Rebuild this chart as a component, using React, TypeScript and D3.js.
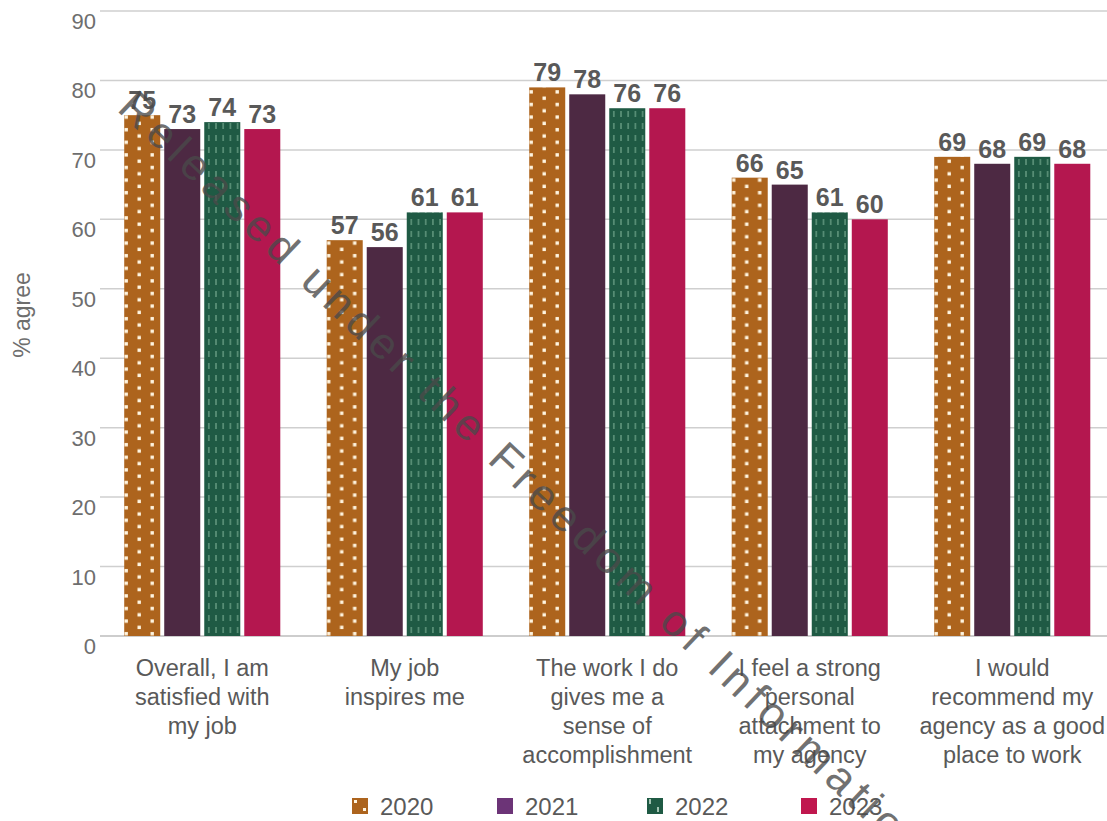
import React from "react";
import * as d3 from "d3";

const categories = [
  ["Overall, I am", "satisfied with", "my job"],
  ["My job", "inspires me"],
  ["The work I do", "gives me a", "sense of", "accomplishment"],
  ["I feel a strong", "personal", "attachment to", "my agency"],
  ["I would", "recommend my", "agency as a good", "place to work"],
];
const years = ["2020", "2021", "2022", "2023"];
const values2020 = [75, 57, 79, 66, 69];
const values2021 = [73, 56, 78, 65, 68];
const values2022 = [74, 61, 76, 61, 69];
const values2023 = [73, 61, 76, 60, 68];
const yTicks = [0, 10, 20, 30, 40, 50, 60, 70, 80, 90];

const series = [values2020, values2021, values2022, values2023];
const fills = ["url(#dots)", "#4d2943", "url(#dashes)", "#b4174f"];
const legendFills = ["url(#dotsL)", "#6c3477", "url(#dashesL)", "#c0174e"];

const W = 1107;
const H = 821;

export default function App() {
  const x0 = d3.scaleBand<number>().domain(d3.range(categories.length)).range([101, 1113.5]).padding(0);
  const x1 = d3
    .scaleBand<string>()
    .domain(years)
    .range([0, x0.bandwidth()])
    .paddingInner(0.1)
    .paddingOuter(0.58);
  const y = d3.scaleLinear().domain([0, 90]).range([636, 11]);
  const font = "'Liberation Sans', Arial, sans-serif";
  const legendX = [352, 497, 647, 801];

  return (
    <svg
      width={W}
      height={H}
      style={{ position: "absolute", left: 0, top: 0, background: "#fff" }}
      fontFamily={font}
    >
      <defs>
        <pattern id="dots" patternUnits="userSpaceOnUse" width="26" height="12.6" x="123" y="0">
          <rect width="26" height="12.6" fill="#ad641d" />
          <rect x="4.5" y="2" width="3.4" height="3.4" fill="#fff5e0" />
          <rect x="17.5" y="8.3" width="3.4" height="3.4" fill="#fff5e0" />
        </pattern>
        <pattern id="dotsL" patternUnits="userSpaceOnUse" width="16" height="16" x="352" y="798">
          <rect width="16" height="16" fill="#ad641d" />
          <rect x="2" y="2" width="3" height="3" fill="#fff5e0" />
          <rect x="11" y="10" width="3" height="3" fill="#fff5e0" />
        </pattern>
        <pattern id="dashes" patternUnits="userSpaceOnUse" width="7.2" height="12" x="205" y="0">
          <rect width="7.2" height="12" fill="#1f5a44" />
          <line x1="3.6" x2="3.6" y1="3" y2="9" stroke="#9fd0b4" strokeWidth="1.1" opacity="0.7" />
        </pattern>
        <pattern id="dashesL" patternUnits="userSpaceOnUse" width="16" height="16" x="647" y="798">
          <rect width="16" height="16" fill="#1f5a44" />
          <line x1="3" x2="3" y1="1" y2="6" stroke="#cfe8d8" strokeWidth="1.5" />
          <line x1="11" x2="11" y1="9" y2="14" stroke="#cfe8d8" strokeWidth="1.5" />
        </pattern>
      </defs>

      {/* gridlines and y ticks */}
      {yTicks.map((t) => (
        <g key={t}>
          <line x1={100} x2={W} y1={y(t)} y2={y(t)} stroke={t === 0 ? "#bdbdbd" : "#cfcfcf"} strokeWidth={1.5} />
          <text x={96} y={y(t) + 18} textAnchor="end" fontSize={22} fill="#6e6e6e">
            {t}
          </text>
        </g>
      ))}

      {/* y axis title */}
      <text transform={`translate(30, 315) rotate(-90)`} textAnchor="middle" fontSize={23} fill="#6e6e6e">
        % agree
      </text>

      {/* bars */}
      {categories.map((cat, i) => (
        <g key={i} transform={`translate(${x0(i)},0)`}>
          {years.map((yr, j) => {
            const v = series[j][i];
            const bx = x1(yr)!;
            return (
              <g key={yr}>
                <rect x={bx} y={y(v)} width={x1.bandwidth()} height={y(0) - y(v)} fill={fills[j]} />
                <text
                  x={bx + x1.bandwidth() / 2}
                  y={y(v) - 6}
                  textAnchor="middle"
                  fontSize={25}
                  fontWeight="bold"
                  fill="#595959"
                >
                  {v}
                </text>
              </g>
            );
          })}
          <text textAnchor="middle" fontSize={23.5} fill="#595959">
            {cat.map((line, k) => (
              <tspan key={k} x={x0.bandwidth() / 2} y={676 + k * 29}>
                {line}
              </tspan>
            ))}
          </text>
        </g>
      ))}

      {/* legend */}
      {years.map((yr, j) => (
        <g key={yr}>
          <rect x={legendX[j]} y={798} width={16} height={16} fill={legendFills[j]} />
          <text x={legendX[j] + 28} y={815} fontSize={24} fill="#595959">
            {yr}
          </text>
        </g>
      ))}

      {/* watermark */}
      <text
        transform="translate(116, 110) rotate(43.5)"
        fontSize={44}
        fill="#4a4a4a"
        opacity={0.78}
        letterSpacing={6}
      >
        Released under the Freedom of Information
      </text>
    </svg>
  );
}
